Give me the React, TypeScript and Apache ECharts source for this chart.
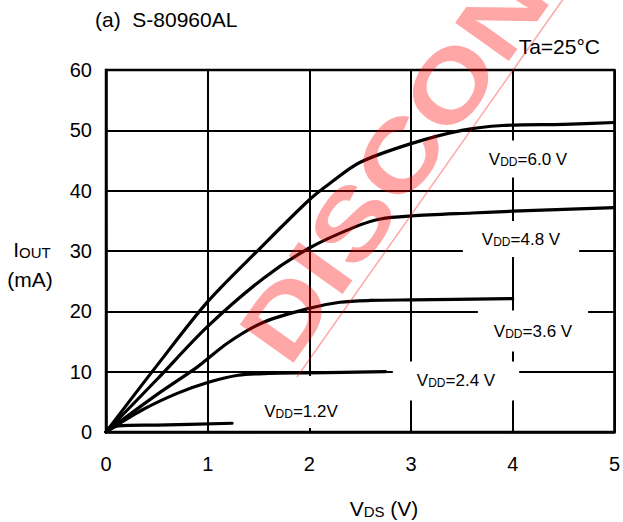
import { useEffect, useRef } from 'react';
import * as echarts from 'echarts';

const FONT = '"Liberation Sans", Arial, Helvetica, sans-serif';

// Output current I_OUT (mA) against V_DS (V) for each supply voltage
const vds60 = [0, 0.5, 1, 1.5, 2, 2.2, 2.5, 3, 3.5, 3.9, 4.5, 5];
const iout60 = [0, 11, 21.6, 30.2, 38.5, 41.2, 44.7, 47.8, 50.0, 50.8, 51.0, 51.3];

const vds48 = [0, 0.5, 1, 1.55, 2, 2.45, 2.7, 3, 3.6, 4, 5];
const iout48 = [0, 8.7, 17.5, 25.5, 30.5, 34.0, 35.3, 35.8, 36.3, 36.6, 37.2];

const vds36 = [0, 0.5, 0.9, 1.2, 1.55, 2, 2.3, 2.6, 3, 4];
const iout36 = [0, 6.2, 10.8, 14.8, 18.2, 20.5, 21.5, 21.8, 21.9, 22.1];

const vds24 = [0, 0.35, 0.7, 1, 1.3, 1.6, 2, 2.75];
const iout24 = [0, 3.6, 6.4, 8.2, 9.4, 9.7, 9.8, 10.0];

const vds12 = [0, 0.12, 0.5, 1.24];
const iout12 = [0, 1.0, 1.15, 1.45];

const curveNames = ['VDD=6.0 V', 'VDD=4.8 V', 'VDD=3.6 V', 'VDD=2.4 V', 'VDD=1.2V'];
const curveX = [vds60, vds48, vds36, vds24, vds12];
const curveY = [iout60, iout48, iout36, iout24, iout12];

// Curve annotations: the part after the V_DD subscript
const labelValues = ['=6.0 V', '=4.8 V', '=3.6 V', '=2.4 V', '=1.2V'];

const xMin = 0, xMax = 5, xStep = 1;
const yMin = 0, yMax = 60, yStep = 10;

const titleText = '(a)  S-80960AL';
const condText = 'Ta=25°C';

function zip(xs: number[], ys: number[]) {
  return xs.map((x, i) => [x, ys[i]]);
}

const subRich = (size: number, sub: number) => ({
  m: { fontSize: size, fontFamily: FONT, color: '#000', lineHeight: size },
  s: { fontSize: sub, fontFamily: FONT, color: '#000', lineHeight: sub, verticalAlign: 'bottom' as const },
});

// White-backed label; (x, y) is the centre of the box including its padding
function vddLabel(i: number, x: number, y: number, padding: number[]) {
  return {
    type: 'text',
    x,
    y,
    z: 10,
    style: {
      text: `{m|V}{s|DD}{m|${labelValues[i]}}`,
      rich: subRich(17, 12),
      align: 'center',
      verticalAlign: 'middle',
      backgroundColor: '#fff',
      padding,
    },
  };
}

export default function App() {
  const ref = useRef<HTMLDivElement>(null);

  useEffect(() => {
    if (!ref.current) return;
    const chart = echarts.init(ref.current, null, { renderer: 'svg' });

    const series = curveNames.map((name, i) => ({
      name,
      type: 'line',
      data: zip(curveX[i], curveY[i]),
      showSymbol: false,
      smooth: 0.3,
      z: 3,
      lineStyle: { color: '#000', width: 3.2, cap: 'round', join: 'round' },
    }));

    chart.setOption({
      animation: false,
      backgroundColor: '#fff',
      grid: {
        left: 106,
        right: 6,
        top: 70,
        bottom: 90,
        show: true,
        borderColor: '#000',
        borderWidth: 2.5,
        backgroundColor: 'transparent',
      },
      xAxis: {
        type: 'value',
        min: xMin,
        max: xMax,
        interval: xStep,
        axisLine: { show: true, lineStyle: { color: '#000', width: 2.5 } },
        axisTick: { show: false },
        splitLine: { show: true, lineStyle: { color: '#000', width: 2 } },
        axisLabel: { color: '#000', fontSize: 20, fontFamily: FONT, margin: 22 },
      },
      yAxis: {
        type: 'value',
        min: yMin,
        max: yMax,
        interval: yStep,
        axisLine: { show: true, lineStyle: { color: '#000', width: 2.5 } },
        axisTick: { show: false },
        splitLine: { show: true, lineStyle: { color: '#000', width: 2 } },
        axisLabel: { color: '#000', fontSize: 20, fontFamily: FONT, margin: 14 },
      },
      series,
      graphic: [
        {
          type: 'text',
          x: 95,
          y: 19,
          style: { text: titleText, fontSize: 21, fontFamily: FONT, fill: '#000', verticalAlign: 'middle' },
        },
        {
          type: 'text',
          x: 600,
          y: 46,
          style: { text: condText, fontSize: 21, fontFamily: FONT, fill: '#000', align: 'right', verticalAlign: 'middle' },
        },
        {
          type: 'text',
          x: 32,
          y: 249,
          style: {
            text: '{m|I}{s|OUT}',
            rich: subRich(21, 15),
            align: 'center',
            verticalAlign: 'middle',
          },
        },
        {
          type: 'text',
          x: 30,
          y: 279,
          style: { text: '(mA)', fontSize: 21, fontFamily: FONT, fill: '#000', align: 'center', verticalAlign: 'middle' },
        },
        {
          type: 'text',
          x: 384,
          y: 508,
          style: {
            text: '{m|V}{s|DS}{m| (V)}',
            rich: subRich(21, 15),
            align: 'center',
            verticalAlign: 'middle',
          },
        },
        vddLabel(0, 528, 159, [10, 16, 10, 16]),
        vddLabel(1, 521, 239, [10, 19, 9, 19]),
        vddLabel(2, 533, 331, [12, 16, 12, 16]),
        vddLabel(3, 456, 381, [10, 24, 12, 24]),
        vddLabel(4, 301, 402, [27, 14, 8, 14]),
        // DISCONTINUED stamp laid over the plot
        {
          type: 'text',
          x: 262,
          y: 350,
          rotation: (54.5 * Math.PI) / 180,
          scaleX: 1.22,
          z: 20,
          silent: true,
          style: {
            text: 'DISCONTINUED',
            fontSize: 96,
            fontWeight: 'bold',
            fontFamily: FONT,
            fill: 'rgba(255,0,0,0.35)',
            verticalAlign: 'middle',
          },
        },
        {
          type: 'line',
          z: 20,
          silent: true,
          shape: { x1: 297, y1: 377, x2: 566, y2: -5 },
          style: { stroke: 'rgba(255,0,0,0.35)', lineWidth: 1.5 },
        },
      ],
    });

    return () => chart.dispose();
  }, []);

  return (
    <div
      ref={ref}
      style={{ position: 'absolute', left: 0, top: 0, width: 623, height: 522, background: '#fff' }}
    />
  );
}
